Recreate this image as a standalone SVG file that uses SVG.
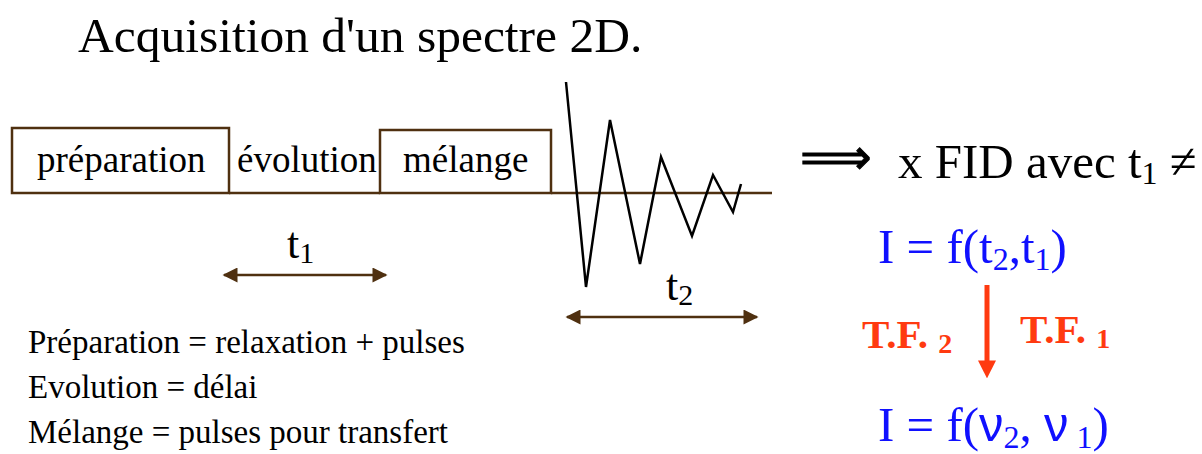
<svg xmlns="http://www.w3.org/2000/svg" width="1202" height="454" viewBox="0 0 1202 454">
<style>
.serif{font-family:"Liberation Serif","Times New Roman",serif;fill:#000}
.box{fill:#fff;stroke:#4f3010;stroke-width:2.5}
.brown{stroke:#4f3010;stroke-width:2.5;fill:none}
.blue{font-family:"Liberation Serif","Times New Roman",serif;fill:#1010ff;font-size:49px}
.sans{font-family:"Liberation Sans",Arial,sans-serif}
.red{font-family:"Liberation Serif","Times New Roman",serif;fill:#ff3a10;font-weight:bold;font-size:41px}
</style>
<defs>
<marker id="ah" viewBox="0 0 10 10" refX="9" refY="5" markerWidth="6.5" markerHeight="6" markerUnits="strokeWidth" orient="auto-start-reverse">
<path d="M0,0 L10,5 L0,10 z" fill="#4f3010"/>
</marker>
<marker id="rh" viewBox="0 0 10 10" refX="2" refY="5" markerWidth="3.6" markerHeight="3.6" markerUnits="strokeWidth" orient="auto">
<path d="M0,0 L10,5 L0,10 z" fill="#ff3a10"/>
</marker>
</defs>
<rect width="1202" height="454" fill="#fff"/>
<text class="serif" x="78" y="52" font-size="49.5">Acquisition d'un spectre 2D.</text>

<g id="connectors">
<line class="brown" x1="229" y1="193" x2="380" y2="193"/>
<line class="brown" x1="551" y1="193" x2="772" y2="193"/>
<line class="brown" x1="224" y1="275" x2="386" y2="275" marker-start="url(#ah)" marker-end="url(#ah)"/>
<line class="brown" x1="567" y1="317" x2="757" y2="317" marker-start="url(#ah)" marker-end="url(#ah)"/>
<line x1="987" y1="285" x2="987" y2="364" stroke="#ff3a10" stroke-width="5" marker-end="url(#rh)"/>
</g>

<g id="preparation">
<rect class="box" x="12" y="128" width="217" height="65"/>
<text class="serif" x="37" y="172" font-size="37">préparation</text>
</g>
<g id="evolution">
<text class="serif" x="237" y="172" font-size="37">évolution</text>
</g>
<g id="melange">
<rect class="box" x="380" y="130" width="171" height="63"/>
<text class="serif" x="403" y="172" font-size="37">mélange</text>
</g>

<g id="fid">
<polyline points="566,82 586,287 610,120 640,264 661,157 692,236 713,175 733,212 741,184" fill="none" stroke="#000" stroke-width="2.5" stroke-linejoin="miter"/>
</g>

<g id="t1-label"><text class="serif" x="287" y="258" font-size="44">t<tspan font-size="30" dy="5">1</tspan></text></g>
<g id="t2-label"><text class="serif" x="666" y="300" font-size="44">t<tspan font-size="30" dy="5">2</tspan></text></g>

<g id="fid-result">
<text x="800" y="174" font-family="DejaVu Sans, sans-serif" font-size="50" fill="#000" stroke="#000" stroke-width="1">⟹</text>
<text class="serif" x="898" y="178" font-size="49">x FID avec t<tspan font-size="32" dy="6">1</tspan><tspan dy="-6"> ≠</tspan></text>
</g>

<g id="eq-time">
<text class="blue" x="878" y="263">I = f(t<tspan font-size="32" dy="7">2</tspan><tspan dy="-7">,t</tspan><tspan font-size="32" dy="7">1</tspan><tspan dy="-7">)</tspan></text>
</g>
<g id="tf-labels">
<text class="red" x="862" y="348">T.F. <tspan font-size="28" dy="5">2</tspan></text>
<text class="red" x="1020" y="343">T.F. <tspan font-size="28" dy="5">1</tspan></text>
</g>
<g id="eq-freq">
<text class="blue" x="878" y="441">I = f(<tspan class="sans">ν</tspan><tspan font-size="32" dy="7">2</tspan><tspan dy="-7">, </tspan><tspan class="sans">ν</tspan><tspan font-size="32" dy="7"> 1</tspan><tspan dy="-7">)</tspan></text>
</g>

<g id="legend">
<text class="serif" x="28" y="353" font-size="33">Préparation = relaxation + pulses</text>
<text class="serif" x="28" y="398" font-size="33">Evolution = délai</text>
<text class="serif" x="28" y="443" font-size="33">Mélange = pulses pour transfert</text>
</g>
</svg>
